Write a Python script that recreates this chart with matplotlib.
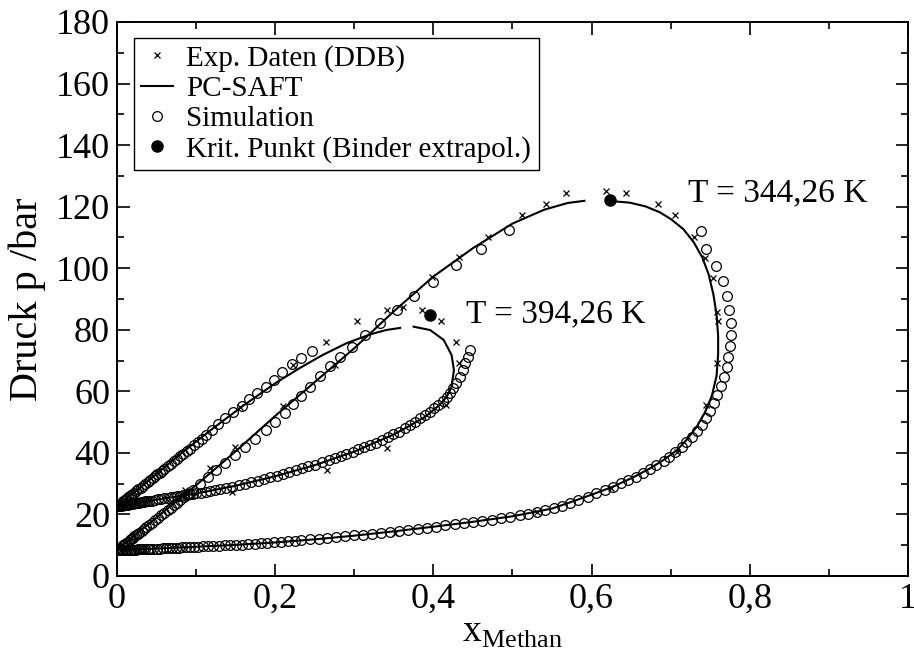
import matplotlib
matplotlib.use('Agg')
import matplotlib.pyplot as plt
from matplotlib.ticker import MultipleLocator

plt.rcParams['font.family'] = ['Liberation Serif', 'DejaVu Serif']
plt.rcParams['mathtext.fontset'] = 'custom'
plt.rcParams['mathtext.rm'] = 'Liberation Serif'

# Exp. Daten (DDB)
exp_344_x = [0.086, 0.118, 0.149, 0.210, 0.276, 0.341, 0.361, 0.398, 0.433, 0.469, 0.512, 0.543, 0.568, 0.618,
             0.644, 0.684, 0.705, 0.729, 0.744, 0.754, 0.759, 0.760, 0.758, 0.745, 0.708, 0.625, 0.531, 0.351]
exp_344_p = [27.9, 35.0, 42.0, 55.2, 68.6, 86.4, 87.5, 97.0, 103.7, 110.2, 117.3, 120.9, 124.3, 125.1,
             124.3, 120.8, 117.3, 110.2, 103.4, 96.7, 85.9, 82.8, 69.1, 55.6, 40.4, 28.5, 20.9, 13.9]
exp_394_x = [0.156, 0.223, 0.264, 0.303, 0.385, 0.410, 0.429, 0.433, 0.416, 0.341, 0.265, 0.145]
exp_394_p = [55.0, 68.6, 76.0, 83.0, 86.4, 82.8, 75.9, 69.1, 55.4, 41.5, 34.4, 27.4]

# PC-SAFT
saft_344_dew_x = [0.0, 0.05, 0.1, 0.15, 0.2, 0.25, 0.3, 0.35, 0.4, 0.45, 0.5, 0.54, 0.57, 0.591]
saft_344_dew_p = [8.4, 19.0, 29.5, 40.5, 52.0, 63.0, 74.0, 86.0, 97.3, 106.5, 114.5, 119.0, 121.2, 121.9]
saft_344_bub_x = [0.0, 0.05, 0.1, 0.15, 0.2, 0.25, 0.3, 0.35, 0.4, 0.45, 0.5, 0.55, 0.577, 0.602, 0.627,
                  0.653, 0.674, 0.691, 0.708, 0.720, 0.733, 0.743, 0.752, 0.758, 0.760, 0.760, 0.758, 0.754,
                  0.748, 0.740, 0.729, 0.716, 0.700, 0.686, 0.668, 0.648, 0.625]
saft_344_bub_p = [8.4, 8.9, 9.5, 10.1, 10.9, 11.9, 13.1, 14.5, 16.0, 17.6, 19.4, 21.9, 24.3, 26.6, 29.0,
                  32.1, 35.0, 37.7, 40.9, 44.2, 48.5, 53.0, 58.5, 65.0, 72.0, 78.0, 85.0, 91.5,
                  98.0, 103.5, 108.5, 112.7, 116.0, 118.2, 120.1, 121.3, 121.8]
saft_394_dew_x = [0.0, 0.04, 0.08, 0.12, 0.16, 0.20, 0.23, 0.26, 0.29, 0.32, 0.34, 0.358]
saft_394_dew_p = [22.6, 31.0, 39.6, 47.7, 55.4, 62.6, 67.4, 71.8, 75.6, 78.5, 79.9, 80.6]
saft_394_bub_x = [0.0, 0.05, 0.1, 0.15, 0.2, 0.25, 0.3, 0.35, 0.37, 0.39, 0.408, 0.417, 0.423, 0.426,
                  0.423, 0.413, 0.396, 0.375]
saft_394_bub_p = [22.6, 24.8, 26.8, 29.3, 32.4, 36.0, 40.4, 46.0, 48.8, 51.8, 55.6, 58.3, 61.5, 66.9,
                  71.8, 76.7, 79.9, 81.0]

# Simulation
sim_344_bub_x = [0.000, 0.002, 0.004, 0.006, 0.008, 0.010, 0.012, 0.014, 0.016, 0.018, 0.020, 0.022, 0.024,
                 0.026, 0.028, 0.030, 0.033, 0.036, 0.039, 0.042, 0.046, 0.050, 0.054, 0.058, 0.062, 0.066,
                 0.070, 0.074, 0.078, 0.082, 0.087, 0.092, 0.097, 0.103, 0.109, 0.115, 0.122, 0.129, 0.136,
                 0.143, 0.150, 0.158, 0.166, 0.174, 0.182, 0.190, 0.198, 0.207, 0.216, 0.225, 0.233,
                 0.244, 0.255, 0.265, 0.277, 0.288, 0.300, 0.311, 0.322, 0.334,
                 0.345, 0.357, 0.368, 0.380, 0.392, 0.403, 0.415, 0.427, 0.439, 0.450, 0.462, 0.474, 0.485,
                 0.497, 0.509, 0.520, 0.531, 0.541, 0.552, 0.562, 0.573, 0.583, 0.595, 0.606, 0.617, 0.627,
                 0.637, 0.646, 0.656, 0.665, 0.674, 0.682, 0.691, 0.698, 0.705, 0.714, 0.720, 0.727, 0.733,
                 0.739, 0.745, 0.750, 0.755, 0.759, 0.764, 0.767, 0.771, 0.773, 0.775, 0.776, 0.776, 0.774,
                 0.771, 0.766, 0.757, 0.745, 0.738]
sim_344_bub_p = [8.4, 8.4, 8.4, 8.5, 8.5, 8.5, 8.5, 8.5, 8.6, 8.6, 8.6, 8.6, 8.6,
                 8.7, 8.7, 8.7, 8.7, 8.8, 8.8, 8.8, 8.9, 8.9, 8.9, 9.0, 9.0, 9.1,
                 9.1, 9.2, 9.2, 9.3, 9.3, 9.4, 9.5, 9.5, 9.6, 9.7, 9.8, 9.9, 10.0,
                 10.0, 10.1, 10.2, 10.4, 10.5, 10.6, 10.8, 10.9, 11.1, 11.3, 11.5, 11.7,
                 11.9, 12.1, 12.3, 12.7, 12.9, 13.2, 13.4, 13.7, 14.1,
                 14.4, 14.7, 15.1, 15.4, 15.7, 16.0, 16.5, 16.8, 17.1, 17.5, 17.9, 18.3, 18.7,
                 19.2, 19.7, 20.3, 20.9, 21.5, 22.2, 22.9, 23.7, 24.6, 25.6, 26.8, 27.9, 29.0,
                 30.1, 31.2, 32.3, 33.4, 34.7, 36.1, 37.4, 38.8, 40.4, 42.0, 43.6, 45.3, 47.2,
                 49.1, 51.2, 53.6, 56.1, 58.8, 61.7, 64.5, 67.8, 71.1, 74.7, 78.3, 82.3, 86.4,
                 91.0, 95.8, 100.8, 106.2, 112.1]
sim_344_dew_x = [0.000, 0.002, 0.004, 0.006, 0.008, 0.010, 0.012, 0.014, 0.016, 0.018, 0.020, 0.022, 0.024,
                 0.026, 0.028, 0.031, 0.034, 0.037, 0.040, 0.044, 0.048, 0.052, 0.056, 0.060, 0.064, 0.068,
                 0.072, 0.076, 0.080, 0.085, 0.090, 0.096, 0.105, 0.115, 0.125, 0.137, 0.149, 0.162, 0.175,
                 0.188, 0.200, 0.212, 0.223, 0.233, 0.244, 0.257, 0.269, 0.282, 0.297, 0.314, 0.332, 0.354,
                 0.375, 0.400, 0.429, 0.460, 0.495]
sim_344_dew_p = [8.4, 8.8, 9.2, 9.6, 10.0, 10.4, 10.8, 11.2, 11.6, 12.0, 12.5, 12.9, 13.3,
                 13.7, 14.1, 14.7, 15.3, 15.9, 16.5, 17.3, 18.1, 18.9, 19.8, 20.6, 21.4, 22.2,
                 23.0, 23.8, 24.6, 25.6, 26.7, 27.9, 30.0, 32.2, 34.4, 36.7, 39.2, 41.9, 44.6,
                 47.3, 50.0, 52.9, 55.8, 58.6, 61.5, 65.0, 68.2, 71.3, 74.5, 78.3, 82.3, 86.4,
                 91.0, 95.6, 101.0, 106.2, 112.4]
sim_394_dew_x = [0.000, 0.002, 0.004, 0.006, 0.008, 0.010, 0.012, 0.014, 0.016, 0.018, 0.020, 0.022, 0.024,
                 0.027, 0.030, 0.033, 0.036, 0.039, 0.042, 0.045, 0.048, 0.051, 0.054, 0.057, 0.060, 0.064,
                 0.068, 0.072, 0.076, 0.080, 0.084, 0.088, 0.092, 0.097, 0.102, 0.107, 0.113,
                 0.120, 0.128, 0.137, 0.147, 0.158, 0.167, 0.177, 0.188, 0.198, 0.209, 0.221, 0.233, 0.247]
sim_394_dew_p = [22.6, 23.0, 23.4, 23.8, 24.2, 24.7, 25.1, 25.5, 25.9, 26.3, 26.7, 27.1, 27.5,
                 28.1, 28.7, 29.3, 29.9, 30.5, 31.2, 31.8, 32.4, 33.0, 33.6, 34.2, 34.8, 35.6,
                 36.4, 37.3, 38.1, 38.9, 39.7, 40.6, 41.4, 42.4, 43.5, 44.5, 45.8,
                 47.4, 49.4, 51.2, 53.4, 55.2, 57.4, 59.4, 61.3, 63.7, 66.4, 68.8, 70.7, 73.2]
sim_394_bub_x = [0.000, 0.002, 0.004, 0.006, 0.008, 0.010, 0.012, 0.014, 0.016, 0.018, 0.020, 0.022, 0.024,
                 0.026, 0.028, 0.030, 0.032, 0.034, 0.036, 0.038, 0.040, 0.044, 0.048, 0.052, 0.056, 0.060,
                 0.064, 0.068, 0.072, 0.076, 0.080, 0.084, 0.088, 0.092, 0.096, 0.100, 0.106, 0.112, 0.118,
                 0.124, 0.130, 0.138, 0.146, 0.154, 0.162, 0.170,
                 0.178, 0.186, 0.194, 0.202, 0.210, 0.218, 0.226, 0.234, 0.242, 0.250, 0.259, 0.268, 0.276,
                 0.283, 0.290, 0.298, 0.305, 0.312, 0.320, 0.327, 0.335, 0.342, 0.349, 0.357, 0.364, 0.370,
                 0.377, 0.383, 0.389, 0.396, 0.401, 0.406, 0.412, 0.417, 0.421, 0.425, 0.429, 0.434, 0.438,
                 0.440, 0.444, 0.446]
sim_394_bub_p = [22.6, 22.7, 22.8, 22.9, 23.0, 23.0, 23.1, 23.2, 23.3, 23.4, 23.5, 23.6, 23.7,
                 23.7, 23.8, 23.9, 24.0, 24.1, 24.2, 24.3, 24.4, 24.5, 24.7, 24.9, 25.0, 25.2,
                 25.4, 25.5, 25.7, 25.9, 26.0, 26.2, 26.3, 26.5, 26.6, 26.8, 27.1, 27.3, 27.6,
                 27.9, 28.2, 28.6, 29.0, 29.5, 30.0, 30.5,
                 31.0, 31.6, 32.1, 32.6, 33.2, 33.8, 34.4, 35.0, 35.6, 36.2, 36.9, 37.7, 38.3,
                 39.0, 39.6, 40.4, 41.2, 41.8, 42.6, 43.3, 44.2, 45.1, 46.0, 46.9, 48.0, 49.1,
                 50.1, 51.2, 52.3, 53.4, 54.5, 55.6, 57.0, 58.3, 59.4, 61.0, 62.8, 64.8, 66.9,
                 69.1, 71.3, 73.4]

# Krit. Punkt (Binder extrapol.)
crit_x = [0.623, 0.396]
crit_p = [122.2, 84.8]

x_ticks = [0, 0.2, 0.4, 0.6, 0.8, 1.0]
x_tick_labels = ['0', '0,2', '0,4', '0,6', '0,8', '1']
y_ticks = [0, 20, 40, 60, 80, 100, 120, 140, 160, 180]

fig = plt.figure(figsize=(9.14, 6.6), dpi=100)
ax = fig.add_axes([0.128, 0.1273, 0.8654, 0.8394])

ax.plot(exp_344_x, exp_344_p, 'kx', ms=5, mew=0.9, ls='none', label='Exp. Daten (DDB)')
ax.plot(exp_394_x, exp_394_p, 'kx', ms=5, mew=0.9, ls='none')

ax.plot(saft_344_dew_x, saft_344_dew_p, 'k-', lw=1.5, label='PC-SAFT')
ax.plot(saft_344_bub_x, saft_344_bub_p, 'k-', lw=1.5)
ax.plot(saft_394_dew_x, saft_394_dew_p, 'k-', lw=1.5)
ax.plot(saft_394_bub_x, saft_394_bub_p, 'k-', lw=1.5)

circ = dict(marker='o', ms=7, mfc='none', mec='k', mew=0.9, ls='none')
ax.plot(sim_344_bub_x, sim_344_bub_p, label='Simulation', **circ)
ax.plot(sim_344_dew_x, sim_344_dew_p, **circ)
ax.plot(sim_394_dew_x, sim_394_dew_p, **circ)
ax.plot(sim_394_bub_x, sim_394_bub_p, **circ)

ax.plot(crit_x, crit_p, 'ko', ms=8, ls='none', label='Krit. Punkt (Binder extrapol.)')

ax.text(0.722, 124.4, 'T = 344,26 K', fontsize=24, va='center')
ax.text(0.441, 85.0, 'T = 394,26 K', fontsize=24, va='center')

ax.set_xlim(0, 1)
ax.set_ylim(0, 180)
ax.set_xticks(x_ticks)
ax.set_xticklabels(x_tick_labels)
ax.set_yticks(y_ticks)
ax.xaxis.set_minor_locator(MultipleLocator(0.1))
ax.yaxis.set_minor_locator(MultipleLocator(10))
ax.tick_params(which='both', direction='in', top=True, right=True, width=1.2, labelsize=26)
ax.tick_params(which='major', length=9, pad=5)
ax.tick_params(which='minor', length=5)
for s in ax.spines.values():
    s.set_linewidth(1.4)

ax.set_xlabel(r'x$_{\mathrm{Methan}}$', fontsize=27, labelpad=0)
ax.set_ylabel('Druck p /bar', fontsize=29, labelpad=7)

leg = ax.legend(loc='upper left', bbox_to_anchor=(0.0215, 0.9717), borderaxespad=0, fontsize=21,
                frameon=True, fancybox=False, edgecolor='k', framealpha=1, handlelength=1.1,
                handletextpad=0.45, labelspacing=0.13, borderpad=0.25)
leg.get_frame().set_linewidth(1.0)

fig.savefig('out.png', dpi=100)
